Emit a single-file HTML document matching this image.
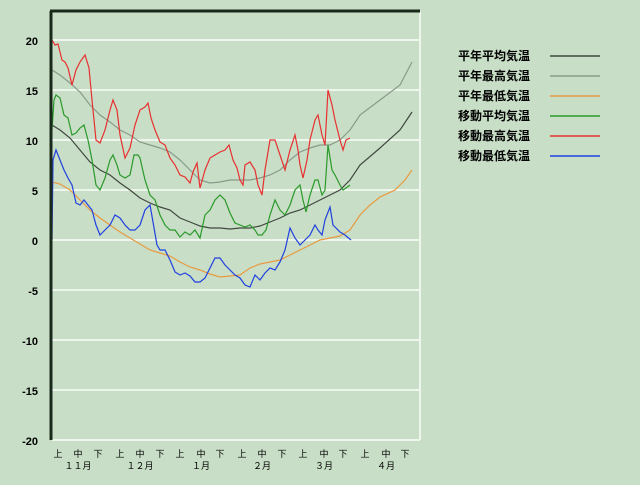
<!DOCTYPE html><html><head><meta charset="utf-8"><style>
body{margin:0;width:640px;height:480px;background:#c8dec6;overflow:hidden;font-family:"Liberation Sans","Noto Sans CJK JP",sans-serif}
</style></head><body>
<svg width="640" height="480" xmlns="http://www.w3.org/2000/svg" font-family="Liberation Sans, Noto Sans CJK JP, sans-serif">
<rect width="640" height="480" fill="#c8dec6"/>
<g stroke="#eef5ec" stroke-width="2">
<line x1="52" x2="420" y1="40" y2="40"/><line x1="52" x2="420" y1="90" y2="90"/><line x1="52" x2="420" y1="140" y2="140"/><line x1="52" x2="420" y1="190" y2="190"/><line x1="52" x2="420" y1="240" y2="240"/><line x1="52" x2="420" y1="290" y2="290"/><line x1="52" x2="420" y1="340" y2="340"/><line x1="52" x2="420" y1="390" y2="390"/><line x1="52" x2="420" y1="440" y2="440"/><line x1="420" x2="420" y1="11" y2="440"/>
</g>
<g font-size="11" font-weight="bold" text-anchor="end" fill="#000">
<text x="38" y="45">20</text><text x="38" y="95">15</text><text x="38" y="145">10</text><text x="38" y="195">5</text><text x="38" y="245">0</text><text x="38" y="295">-5</text><text x="38" y="345">-10</text><text x="38" y="395">-15</text><text x="38" y="445">-20</text>
</g>
<g fill="none" stroke-width="1.2">
<polyline stroke="#404840" points="52,125 60,130 70,138 80,150 90,162 100,170 110,175 120,183 130,190 140,198 150,203 160,207 170,210 180,218 190,222 200,226 210,228 220,228 230,229 240,228 250,228 260,226 270,222 280,218 290,213 300,210 310,205 320,200 330,195 340,190 350,180 360,165 380,148 400,130 412,112"/>
<polyline stroke="#8a9a8a" points="52,70 60,75 70,83 80,92 90,105 100,115 110,122 120,130 130,135 140,142 150,145 160,148 170,152 180,160 190,170 200,180 210,183 220,182 230,180 240,180 250,180 260,178 270,175 280,170 290,160 300,152 310,148 320,145 330,145 340,140 350,130 360,115 380,100 400,85 412,62"/>
<polyline stroke="#e89a40" points="52,182 60,184 70,190 80,200 90,210 100,218 110,225 120,232 130,238 140,244 150,250 160,253 170,256 180,262 190,267 200,270 210,274 220,277 230,276 240,275 250,268 260,264 270,262 280,260 290,255 300,250 310,245 320,240 330,238 340,236 350,230 360,215 370,205 380,197 395,190 405,180 412,170"/>
<polyline stroke="#2a9a2a" points="52,130 54,100 56,95 60,98 64,115 68,118 72,135 76,133 80,128 84,125 88,140 92,160 96,185 100,190 105,178 110,160 113,155 117,165 120,175 125,178 130,175 134,155 138,155 140,158 145,180 150,195 155,200 160,215 165,225 170,230 175,230 180,237 185,232 190,235 195,230 200,238 205,215 210,210 215,200 220,195 225,200 230,213 235,223 240,225 245,227 250,225 255,230 258,235 262,235 266,230 270,215 275,200 280,210 285,215 290,205 295,190 300,185 303,200 306,212 310,195 315,180 318,180 322,195 325,190 328,145 332,170 335,175 340,185 343,190 346,188 350,185"/>
<polyline stroke="#e83030" points="52,40 55,45 58,44 62,60 65,62 68,68 72,85 76,70 80,62 85,55 89,68 92,100 96,140 100,143 105,130 110,110 113,100 117,110 120,135 125,158 130,148 135,125 140,110 145,107 148,103 151,118 155,130 160,142 165,145 170,158 175,165 180,175 185,177 190,183 193,172 197,163 200,188 205,170 210,158 215,155 220,152 225,150 229,145 233,160 237,168 240,180 243,185 245,165 250,162 255,170 258,185 262,195 265,170 270,140 275,140 280,155 285,170 290,150 295,135 298,150 300,165 303,178 307,160 310,140 315,120 318,115 322,135 325,145 328,90 332,105 335,120 340,140 343,150 346,140 350,138"/>
<polyline stroke="#2040e0" points="52,240 53,160 56,150 60,160 64,170 68,178 72,185 76,203 80,205 84,200 88,205 92,210 96,225 100,235 105,230 110,225 115,215 120,218 125,225 130,230 135,230 140,225 145,210 150,205 153,222 157,245 160,250 165,250 170,260 175,272 180,275 185,273 190,276 195,282 200,282 205,278 210,268 215,258 220,258 225,265 230,270 235,275 240,278 245,285 250,287 255,275 260,280 265,273 270,268 275,270 280,262 285,250 290,228 295,238 300,245 305,240 310,235 315,225 318,230 322,235 325,220 330,207 333,225 336,228 340,232 345,235 351,240"/>
</g>
<line x1="51" y1="11" x2="51" y2="440" stroke="#1a2a1a" stroke-width="3"/>
<line x1="50" y1="11" x2="420" y2="11" stroke="#1a2a1a" stroke-width="3"/>
<g font-size="9" fill="#000" text-anchor="middle">
<text x="58" y="457">上</text><text x="78" y="457">中</text><text x="98" y="457">下</text>
<text x="120" y="457">上</text><text x="140" y="457">中</text><text x="160" y="457">下</text>
<text x="180" y="457">上</text><text x="201" y="457">中</text><text x="220" y="457">下</text>
<text x="242" y="457">上</text><text x="262" y="457">中</text><text x="282" y="457">下</text>
<text x="303" y="457">上</text><text x="324" y="457">中</text><text x="343" y="457">下</text>
<text x="365" y="457">上</text><text x="386" y="457">中</text><text x="405" y="457">下</text>
<text x="78" y="469">１１月</text><text x="140" y="469">１２月</text><text x="201" y="469">１月</text><text x="262" y="469">２月</text><text x="324" y="469">３月</text><text x="386" y="469">４月</text>
</g>
<g font-size="12" font-weight="bold" fill="#000">
<text x="458" y="60">平年平均気温</text><text x="458" y="80">平年最高気温</text><text x="458" y="100">平年最低気温</text><text x="458" y="120">移動平均気温</text><text x="458" y="140">移動最高気温</text><text x="458" y="160">移動最低気温</text>
</g>
<g stroke-width="1.5">
<line x1="550" x2="600" y1="56" y2="56" stroke="#404840"/><line x1="550" x2="600" y1="76" y2="76" stroke="#8a9a8a"/><line x1="550" x2="600" y1="96" y2="96" stroke="#e89a40"/><line x1="550" x2="600" y1="116" y2="116" stroke="#2a9a2a"/><line x1="550" x2="600" y1="136" y2="136" stroke="#e83030"/><line x1="550" x2="600" y1="156" y2="156" stroke="#2040e0"/>
</g>
</svg></body></html>
